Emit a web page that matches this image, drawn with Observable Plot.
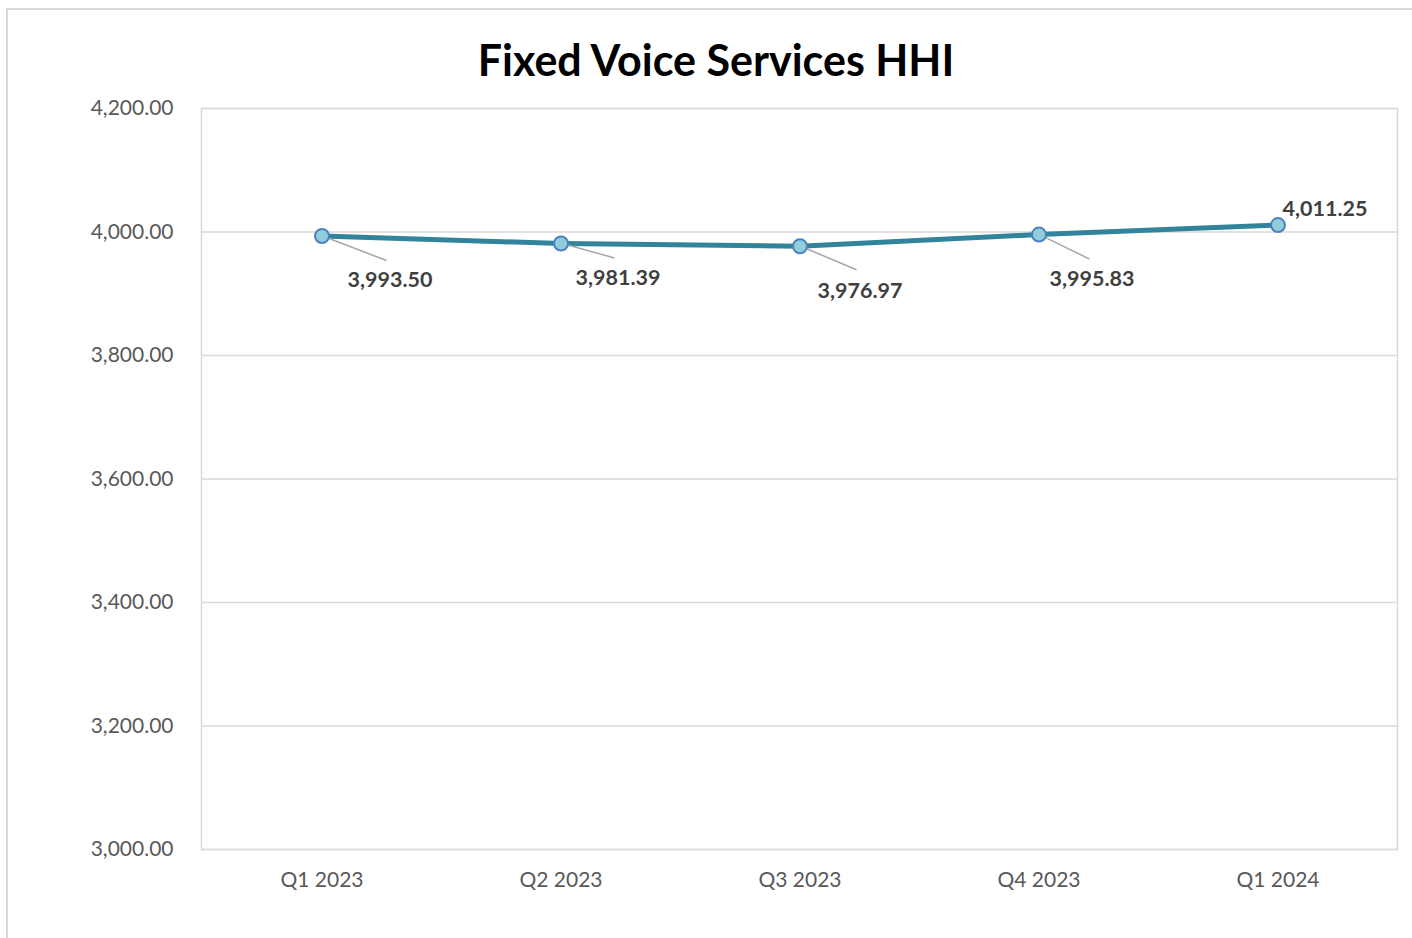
<!DOCTYPE html>
<html>
<head>
<meta charset="utf-8">
<script src="https://cdn.jsdelivr.net/npm/d3@7"></script>
<script src="https://cdn.jsdelivr.net/npm/@observablehq/plot@0.6"></script>
<style>
  html, body { margin: 0; padding: 0; background: #fff; overflow: hidden; }
  #page { position: relative; width: 1412px; height: 938px; font-family: Lato, "Open Sans", sans-serif; }
  #frame { position: absolute; left: 6px; top: 8px; width: 1430px; height: 960px; border: 2px solid #d9d9d9; box-sizing: border-box; }
  #title { position: absolute; left: 0; top: 0; width: 1432px; height: 90px; line-height: 120px; text-align: center;
           font-weight: 700; font-size: 43px; color: #000; }
  #chart { position: absolute; left: 0; top: 90px; }
</style>
</head>
<body>
<div id="page">
  <div id="frame"></div>
  <div id="title">Fixed Voice Services HHI</div>
  <div id="chart"></div>
</div>
<script>
const quarters = ["Q1 2023", "Q2 2023", "Q3 2023", "Q4 2023", "Q1 2024"];
const hhi = [3993.50, 3981.39, 3976.97, 3995.83, 4011.25];
const yTicks = [3000, 3200, 3400, 3600, 3800, 4000, 4200];

// label placement (pixel offsets from each point): [labelDx, labelDy, leaderDx, leaderDy]
const labelOffsets = [
  [68, 44, 65, 25],
  [57, 35, 54, 15],
  [60, 45, 57, 24],
  [53, 45, 51, 25],
  [47, -16, null, null]
];

const data = quarters.map((q, i) => ({quarter: q, value: hhi[i], i}));
const fmt = d3.format(",.2f");

const leaderMark = Plot.dot(data, {
  x: "quarter", y: "value",
  render: (index, scales, values) => {
    const g = d3.create("svg:g");
    const half = scales.x && scales.x.bandwidth ? scales.x.bandwidth() / 2 : 0;
    for (const i of index) {
      const o = labelOffsets[data[i].i];
      if (o[2] == null) continue;
      const cx = values.x[i] + half, cy = values.y[i];
      g.append("line")
        .attr("x1", cx).attr("y1", cy)
        .attr("x2", cx + o[2]).attr("y2", cy + o[3])
        .attr("stroke", "#a6a6a6").attr("stroke-width", 1.5);
    }
    return g.node();
  }
});

const labelMarks = data.map((d, k) => Plot.text([d], {
  x: "quarter", y: "value", text: (d) => fmt(d.value),
  dx: labelOffsets[k][0], dy: labelOffsets[k][1],
  fontWeight: 700, fontSize: 21.5, fill: "#404040", textAnchor: "middle"
}));

const chart = Plot.plot({
  width: 1412,
  height: 848,
  marginTop: 18,
  marginBottom: 89,
  marginLeft: 201,
  marginRight: 15,
  style: {fontFamily: "Lato, 'Open Sans', sans-serif", background: "transparent", overflow: "visible"},
  x: {domain: quarters, type: "band", padding: 0, label: null},
  y: {domain: [3000, 4200], ticks: yTicks, label: null},
  marks: [
    Plot.gridY(yTicks, {stroke: "#d9d9d9", strokeOpacity: 1, strokeWidth: 1.5}),
    Plot.frame({stroke: "#d9d9d9", strokeWidth: 1.5}),
    Plot.axisY({ticks: yTicks, tickFormat: fmt, tickSize: 0, tickPadding: 28, fontSize: 21, fill: "#595959", label: null}),
    Plot.axisX({tickSize: 0, tickPadding: 23, fontSize: 21, fill: "#595959", label: null}),
    Plot.line(data, {x: "quarter", y: "value", stroke: "#31849b", strokeWidth: 5}),
    leaderMark,
    Plot.dot(data, {x: "quarter", y: "value", r: 7, fill: "#92cddc", stroke: "#4f81bd", strokeWidth: 2}),
    ...labelMarks
  ]
});
document.getElementById("chart").appendChild(chart);
</script>
</body>
</html>
